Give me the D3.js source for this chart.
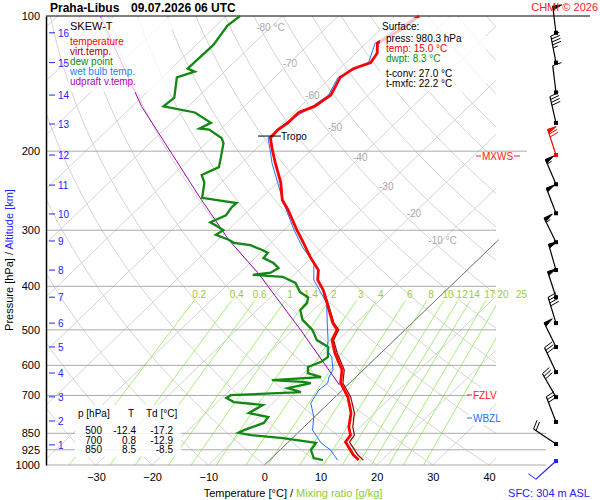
<!DOCTYPE html>
<html>
<head>
<meta charset="utf-8">
<script src="https://cdn.jsdelivr.net/npm/d3@7"></script>
<style>
body { margin: 0; background: #fff; }
svg { font-family: "Liberation Sans", Arial, sans-serif; }
.axis text { font-size: 11px; fill: #000; }
</style>
</head>
<body>
<svg class="chart" width="600" height="500"></svg>
<script>
// temperature profile
const tP = [975,950,889,858,823,766,706,657,614,563,527,500,483,445,408,387,368,344,320,300,270,257,235,213,199,187,179,173,164,159,150,137,131,127,121,115,107,100];
const tT = [15.9,14.0,10.2,9.8,8.0,5.8,2.3,-1.6,-3.8,-8.2,-11.1,-12.1,-14.1,-17.9,-21.9,-24.8,-26.5,-30.4,-34.2,-37.7,-43.1,-45.9,-49.4,-53.9,-56.9,-59.5,-59.7,-59.2,-59.2,-57.5,-56.7,-58.3,-57.6,-55.6,-56.2,-58.0,-56.3,-55.6];
// virtual temperature
const vP = [975,950,889,858,823,766,706,657,614,563,527,500,483,445,408];
const vT = [16.7,14.8,10.9,10.5,8.7,6.4,2.8,-1.2,-3.4,-7.8,-10.8,-11.8,-13.9,-17.7,-21.8];
// wet bulb
const wP = [975,926,893,836,782,728,681,657,637,614,575,555,527,483,436,387,355,327,300,261,213,199,187,173,159,150,137,127,115,100];
const wT = [12.1,9.0,6.0,2.1,-0.1,-3.2,-4.2,-3.9,-4.8,-5.4,-8.0,-10.1,-11.8,-15.1,-18.9,-25.5,-28.6,-33.6,-38.2,-45.1,-54.5,-57.3,-59.9,-59.6,-57.9,-57.1,-58.7,-56.0,-58.4,-56.0];
// dew point
const dP = [975,965,926,893,871,858,848,836,806,782,766,735,724,709,699,688,674,657,653,647,637,624,605,589,575,546,527,500,475,452,436,423,412,393,381,377,373,364,355,346,337,332,324,320,315,307,300,295,288,278,266,261,254,235,226,217,211,192,187,179,178,173,164,159,152,137,133,131,116,105,100];
const dT = [9.5,7.5,5.5,5.1,-1.7,-7.9,-10.6,-10.1,-7.9,-8.2,-12.4,-11.4,-17.1,-19.2,-18.9,-7.0,-10.1,-6.9,-8.6,-14.4,-6.2,-9.3,-10.4,-9.0,-8.7,-10.5,-13.8,-16.5,-20.1,-22.3,-22.4,-23.3,-25.7,-28.2,-31.6,-37.3,-34.5,-34.0,-35.8,-38.5,-38.7,-40.2,-43.2,-46.6,-48.1,-51.3,-50.8,-52.3,-54.6,-53.1,-53.6,-53.5,-60.6,-63.0,-64.9,-63.3,-64.1,-66.9,-68.2,-72.0,-73.9,-72.9,-77.7,-84.4,-84.1,-87.4,-85.3,-87.1,-86.9,-88.0,-87.5];
// updraft virtual temperature
const uP = [663,500,373,315,253,159,100];
const uT = [-1.5,-18.6,-36.8,-48.1,-61.2,-88.3,-112.4];
// wind
const windP = [109,127,148,173,204,237,275,319,368,423,483,546,621,706,802,898,980];
const windDir = [353,349,353,347,342,337,339,334,344,342,343,334,335,330,339,304,228];
const windKt = [50,45,10,40,70,55,50,55,50,50,40,50,30,30,30,20,10];
// axes
const pLevels = [100,200,300,400,500,600,700,850,925,1000];
const tTicks = [-30,-20,-10,0,10,20,30,40];
const kmLabels = [1,2,3,4,5,6,7,8,9,10,11,12,13,14,15,16];
const kmP = [902,798,705,624,546,483,423,368,317,276,238,204,174,150,127,109];
const mixRatios = [0.2,0.4,0.6,1,1.4,2,3,4,6,8,10,12,14,17,20,25];
const isoLabelT = [-80,-70,-60,-50,-40,-30,-20,-10];
const isoLabelP = [106,127,150,177,206,239,275,315];
const tableRows = [["500","-12.4","-17.2"],["700","0.8","-12.9"],["850","8.5","-8.5"]];

const pLeft = 46, pRight = 496, pTop = 16, pBottom = 465, skew = 1.04;
const svg = d3.select(".chart");

const yScale = d3.scaleLog().domain([100,1000]).range([pTop, pBottom]);
const xT = d3.scaleLinear().domain([-30,40]).range([96,489]);
const px = (t, p) => xT(t) + skew*(pBottom - yScale(p));

svg.append("defs").append("clipPath").attr("id","plot")
  .append("rect").attr("x",pLeft).attr("y",pTop-1).attr("width",pRight-pLeft).attr("height",pBottom-pTop+1);

const grid = svg.append("g").attr("clip-path","url(#plot)");
const pRange = d3.range(1000, 99, -10);

// isotherms
d3.range(-130, 50, 10).forEach(t => {
  grid.append("line")
    .attr("x1", px(t,1000)).attr("y1", yScale(1000))
    .attr("x2", px(t,100)).attr("y2", yScale(100))
    .attr("stroke", "#d4d4d4").attr("stroke-width", 1);
});
// dry adiabats
d3.range(-30, 220, 10).forEach(th => {
  const line = d3.line().x(p => px((th+273.15)*Math.pow(p/1000,0.2857)-273.15, p)).y(p => yScale(p));
  grid.append("path").attr("d", line(pRange)).attr("fill","none")
    .attr("stroke","#d4d4d4").attr("stroke-width",1);
});
// mixing ratio lines
function tMix(w, p) {
  const e = w*p/(622+w);
  const l = Math.log(e/6.112);
  return 243.5*l/(17.67-l);
}
const mixTop = 430;
mixRatios.forEach(w => {
  grid.append("line")
    .attr("x1", px(tMix(w,1000),1000)).attr("y1", yScale(1000))
    .attr("x2", px(tMix(w,mixTop),mixTop)).attr("y2", yScale(mixTop))
    .attr("stroke", "#a6ee7a").attr("stroke-width", 1);
  svg.append("text").attr("x", px(tMix(w,416),416)).attr("y", 298)
    .attr("text-anchor","middle").attr("font-size",10).attr("fill","#9acd32").text(w);
});
// 0 C isotherm
svg.append("line").attr("x1", px(0,1000)).attr("y1", yScale(1000))
  .attr("x2", px(0,315)).attr("y2", yScale(315)).attr("stroke","#777").attr("stroke-width",1);

// isobars
pLevels.forEach(p => {
  const xe = p >= 850 ? 546 : (p === 200 ? 527 : pRight);
  svg.append("line").attr("x1", pLeft).attr("x2", p === 100 ? 590 : xe)
    .attr("y1", yScale(p)).attr("y2", yScale(p))
    .attr("stroke", p === 100 ? "#000" : "#aaa").attr("stroke-width", 1);
});

// isotherm labels
isoLabelT.forEach((t,i) => {
  svg.append("text").attr("x", px(t,isoLabelP[i])).attr("y", yScale(isoLabelP[i])+4)
    .attr("text-anchor","middle").attr("font-size",10).attr("fill","#aaa")
    .text(t === -80 || t === -10 ? t + " °C" : t);
});

// profiles
const prof = (P, T) => d3.line().x((d,i) => px(T[i], P[i])).y((d,i) => yScale(P[i]))(P);
svg.append("path").attr("d", prof(uP,uT)).attr("fill","none").attr("stroke","#a000b0").attr("stroke-width",1);
svg.append("path").attr("d", prof(dP,dT)).attr("fill","none").attr("stroke","#118811").attr("stroke-width",2.3);
svg.append("path").attr("d", prof(vP,vT)).attr("fill","none").attr("stroke","#990000").attr("stroke-width",1.2);
svg.append("path").attr("d", prof(wP,wT)).attr("fill","none").attr("stroke","#2070ff").attr("stroke-width",1);
svg.append("path").attr("d", prof(tP,tT)).attr("fill","none").attr("stroke","#ff0000").attr("stroke-width",2.8);

// tropopause
const tropY = yScale(187);
svg.append("line").attr("x1",258).attr("x2",281).attr("y1",tropY-2).attr("y2",tropY-2).attr("stroke","#000");
svg.append("text").attr("x",281).attr("y",tropY+2).attr("font-size",10).text("Tropo");

// left axis
const yAxis = d3.axisLeft(yScale).tickValues(pLevels).tickFormat(d => d).tickSize(0).tickPadding(6);
svg.append("g").attr("class","axis").attr("transform",`translate(${pLeft},0)`).call(yAxis)
  .call(g => g.select(".domain").attr("stroke","#000").attr("stroke-width",1.5));

// bottom axis
const xAxis = d3.axisBottom(xT).tickValues(tTicks).tickSize(0).tickPadding(6);
svg.append("g").attr("class","axis").attr("transform",`translate(0,${pBottom+2})`).call(xAxis)
  .call(g => g.select(".domain").remove());

// legend box (under the altitude labels)
svg.append("rect").attr("x",68).attr("y",18).attr("width",104).attr("height",74).attr("fill","#fff").attr("fill-opacity",0.75);

// altitude ticks
kmLabels.forEach((k,i) => {
  const y = yScale(kmP[i]);
  svg.append("line").attr("x1",49).attr("x2",55).attr("y1",y).attr("y2",y).attr("stroke","#2222ff");
  svg.append("text").attr("x",58).attr("y",y+4).attr("font-size",10).attr("fill","#2222ff").text(k);
});

// level markers
function marker(label, y, color, x) {
  svg.append("line").attr("x1",x-6).attr("x2",x-1).attr("y1",y).attr("y2",y).attr("stroke",color);
  svg.append("text").attr("x",x).attr("y",y+4).attr("font-size",10).attr("fill",color).text(label);
}
svg.append("rect").attr("x",469).attr("y",388).attr("width",30).attr("height",14).attr("fill","#fff");
svg.append("rect").attr("x",469).attr("y",411).attr("width",36).attr("height",14).attr("fill","#fff");
marker("FZLV", 395, "#ff2020", 473);
marker("WBZL", 418, "#2070ff", 473);
marker("MXWS", 156, "#ff2020", 482);
svg.append("line").attr("x1",514).attr("x2",520).attr("y1",156).attr("y2",156).attr("stroke","#ff2020");

// wind barbs
const bx = 556;
windP.forEach((p,i) => {
  const y = yScale(p);
  const a = windDir[i]*Math.PI/180;
  const ux = Math.sin(a), uy = -Math.cos(a);
  const nx = Math.cos(a), ny = Math.sin(a);
  const L = 27;
  const col = i === 4 ? "#ff0000" : (i === windP.length-1 ? "#2020ff" : "#000");
  const g = svg.append("g").attr("stroke", col).attr("fill", col);
  g.append("line").attr("x1",bx).attr("y1",y).attr("x2",bx+ux*L).attr("y2",y+uy*L).attr("stroke-width",1.2);
  g.append("rect").attr("x",bx-2).attr("y",y-2).attr("width",4).attr("height",4).attr("stroke","none");
  let s = Math.round(windKt[i]/5)*5, pos = L;
  while (s >= 50) {
    const b1 = [bx+ux*pos, y+uy*pos], b2 = [bx+ux*(pos-4), y+uy*(pos-4)];
    g.append("path").attr("d",`M${b1}L${b1[0]+nx*9},${b1[1]+ny*9}L${b2}Z`);
    pos -= 5; s -= 50;
  }
  while (s >= 10) {
    const b = [bx+ux*pos, y+uy*pos];
    g.append("line").attr("x1",b[0]).attr("y1",b[1]).attr("x2",b[0]+nx*9+ux*2).attr("y2",b[1]+ny*9+uy*2);
    pos -= 3; s -= 10;
  }
  if (s >= 5) {
    const b = [bx+ux*pos, y+uy*pos];
    g.append("line").attr("x1",b[0]).attr("y1",b[1]).attr("x2",b[0]+nx*5+ux*1).attr("y2",b[1]+ny*5+uy*1);
  }
});

// legend text
svg.append("text").attr("x",70).attr("y",30).attr("font-size",11).text("SKEW-T");
[["temperature","#ff0000"],["virt.temp.","#a00000"],["dew point","#118811"],["wet bulb temp.","#2a80ff"],["udpraft v.temp.","#b000c0"]]
  .forEach((d,i) => svg.append("text").attr("x",70).attr("y",45+i*10).attr("font-size",10).attr("fill",d[1]).text(d[0]));

// surface box
svg.append("rect").attr("x",380).attr("y",18).attr("width",106).attr("height",74).attr("fill","#fff").attr("fill-opacity",0.75);
[["Surface:","#000",30],["press: 980.3 hPa","#000",42],["temp: 15.0 °C","#ff0000",52],["dwpt: 8.3 °C","#118811",62],["t-conv: 27.0 °C","#000",77],["t-mxfc: 22.2 °C","#000",87]]
  .forEach((d,i) => svg.append("text").attr("x", i === 0 ? 382 : 386).attr("y",d[2]).attr("font-size",10).attr("fill",d[1]).text(d[0]));

// table
svg.append("rect").attr("x",75).attr("y",405).attr("width",106).attr("height",52).attr("fill","#fff").attr("fill-opacity",0.85);
svg.append("text").attr("x",78).attr("y",417).attr("font-size",10).text("p [hPa]");
svg.append("text").attr("x",131).attr("y",417).attr("font-size",10).attr("text-anchor","middle").text("T");
svg.append("text").attr("x",146).attr("y",417).attr("font-size",10).text("Td [°C]");
tableRows.forEach((r,i) => {
  const y = 434 + i*9.5;
  svg.append("text").attr("x",102).attr("y",y).attr("font-size",10).attr("text-anchor","end").text(r[0]);
  svg.append("text").attr("x",136).attr("y",y).attr("font-size",10).attr("text-anchor","end").text(r[1]);
  svg.append("text").attr("x",173).attr("y",y).attr("font-size",10).attr("text-anchor","end").text(r[2]);
});

// titles
svg.append("text").attr("x",50).attr("y",12).attr("font-size",12).attr("font-weight","bold").text("Praha-Libus");
svg.append("text").attr("x",131).attr("y",12).attr("font-size",12).attr("font-weight","bold").text("09.07.2026 06 UTC");
svg.append("text").attr("x",598).attr("y",11).attr("font-size",11).attr("text-anchor","end").attr("fill","#ff2020").text("CHMI © 2026");

const xt = svg.append("text").attr("x",293).attr("y",497).attr("font-size",11).attr("text-anchor","middle");
xt.append("tspan").text("Temperature [°C]  /  ");
xt.append("tspan").attr("fill","#8ccc33").text("Mixing ratio [g/kg]");
svg.append("text").attr("x",590).attr("y",497).attr("font-size",11).attr("text-anchor","end").attr("fill","#2222ff").text("SFC: 304 m ASL");

const yt = svg.append("text").attr("transform","translate(13,260) rotate(-90)").attr("font-size",11).attr("text-anchor","middle");
yt.append("tspan").text("Pressure [hPa]  /  ");
yt.append("tspan").attr("fill","#2222ff").text("Altitude [km]");
</script>
</body>
</html>
